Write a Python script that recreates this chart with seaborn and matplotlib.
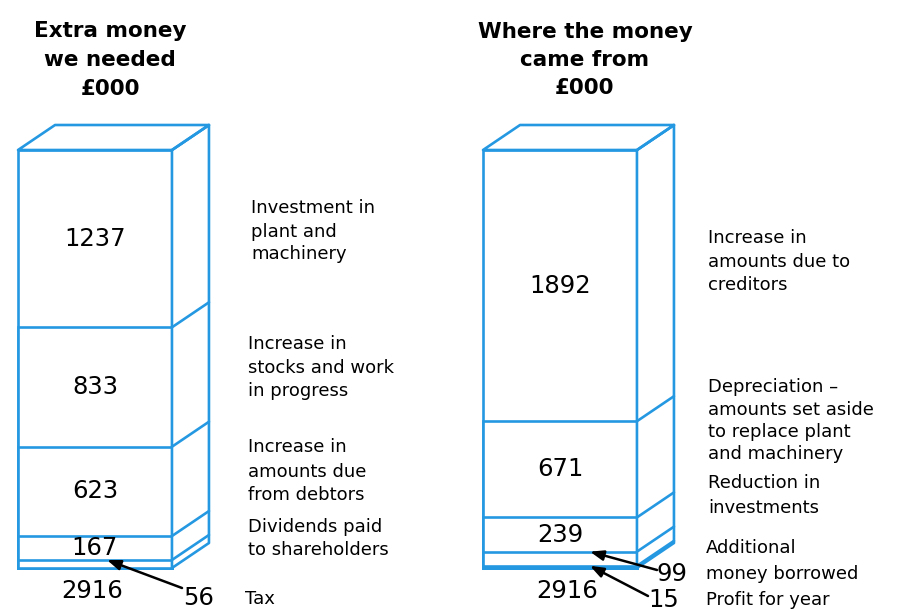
import numpy as np
import pandas as pd
import matplotlib.pyplot as plt
import seaborn as sns
from matplotlib.patches import Polygon

W, H, DPI = 901, 611, 100
BLUE = '#2598e2'

columns = ['Extra money we needed', 'Where the money came from']

# segments from the bottom of each column to the top, in £000
needed_values = [56, 167, 623, 833, 1237]
source_values = [15, 99, 239, 671, 1892]
totals = [2916, 2916]

needed_labels = [
    'Tax',
    'Dividends paid\nto shareholders',
    'Increase in\namounts due\nfrom debtors',
    'Increase in\nstocks and work\nin progress',
    'Investment in\nplant and\nmachinery',
]
source_labels = [
    'Profit for year',
    'Additional\nmoney borrowed',
    'Reduction in\ninvestments',
    'Depreciation \u2013\namounts set aside\nto replace plant\nand machinery',
    'Increase in\namounts due to\ncreditors',
]

needed_cum = np.cumsum(needed_values)
source_cum = np.cumsum(source_values)

sns.set_style('white')
plt.rcParams['font.family'] = ['DejaVu Sans']
plt.rcParams['text.color'] = 'black'

fig = plt.figure(figsize=(W / DPI, H / DPI), dpi=DPI)
fig.patch.set_facecolor('white')
ax = fig.add_axes([0, 0, 1, 1])

# tallest cumulative bar first, smaller ones drawn over it -> dividers
for i in range(len(needed_values) - 1, -1, -1):
    df = pd.DataFrame({'side': columns, 'cum': [needed_cum[i], source_cum[i]]})
    sns.barplot(data=df, x='side', y='cum', order=columns, color='white',
                edgecolor=BLUE, linewidth=1.9, width=0.331, saturation=1,
                errorbar=None, ax=ax)

# scale: 465 px per category step, 418 px for the 2916 total
x_px = 465.0
y_px = 418.0 / totals[0]
ax.set_xlim(-95 / x_px, (W - 95) / x_px)
ax.set_ylim(-(H - 568) / y_px, 568 / y_px)
ax.set_axis_off()

DX = 37 / x_px
DY = 25 / y_px

# 3d sides and tops built from the bar patches
groups = {}
for p in ax.patches:
    groups.setdefault(round(p.get_x(), 4), []).append(p)

for x0, ps in groups.items():
    w = ps[0].get_width()
    top = max(p.get_height() for p in ps)
    xr = x0 + w
    side = Polygon([(xr, 0), (xr + DX, DY), (xr + DX, top + DY), (xr, top)],
                   closed=True, facecolor='white', edgecolor=BLUE, lw=1.9,
                   joinstyle='round')
    ax.add_patch(side)
    lid = Polygon([(x0, top), (x0 + DX, top + DY), (xr + DX, top + DY), (xr, top)],
                  closed=True, facecolor='white', edgecolor=BLUE, lw=1.9,
                  joinstyle='round')
    ax.add_patch(lid)
    for p in ps:
        h = p.get_height()
        ax.plot([xr, xr + DX], [h, h + DY], color=BLUE, lw=1.9,
                solid_capstyle='round')


def put(x, y, s, **kw):
    fig.text(x / W, 1 - y / H, s, va='baseline', **kw)


# titles
for s, y in zip(['Extra money', 'we needed', '\u00a3000'], [37, 66, 95]):
    put(110, y, s, ha='center', fontsize=15.5, fontweight='bold')
for s, y in zip(['Where the money', 'came from', '\u00a3000'], [38, 66, 94]):
    put(585, y, s, ha='center', fontsize=15.5, fontweight='bold')

# numbers inside the segments
num_kw = dict(ha='center', va='center', fontsize=17.5)
for xi, vals, cum, skip in [(0, needed_values, needed_cum, 1),
                            (1, source_values, source_cum, 2)]:
    for v, c in list(zip(vals, cum))[skip:]:
        ax.text(xi, c - v / 2, str(v), **num_kw)

put(92, 598, str(totals[0]), ha='center', fontsize=17.5)
put(567, 598, str(totals[1]), ha='center', fontsize=17.5)

# small segments called out with arrows
arrow = dict(arrowstyle='-|>,head_length=0.8,head_width=0.3', color='black',
             lw=1.8, shrinkA=0, shrinkB=0)
callouts = [
    (0 + 12 / x_px, needed_cum[0], 182, 588, str(needed_values[0]), 183, 605),
    (1 + 30 / x_px, source_cum[1], 657, 570, str(source_values[1]), 656, 581),
    (1 + 30 / x_px, source_cum[0], 648, 596, str(source_values[0]), 648, 607),
]
for xd, yd, tx, ty, s, lx, ly in callouts:
    ax.annotate('', xy=(xd, yd), xycoords='data',
                xytext=(tx / W, 1 - ty / H), textcoords='figure fraction',
                arrowprops=arrow)
    put(lx, ly, s, ha='left', fontsize=17.5)

# side descriptions
lab_kw = dict(ha='left', fontsize=13)
left_pos = [(245, [604]), (248, [532, 555]), (248, [452, 477, 500]),
            (248, [349, 373, 396]), (251, [213, 237, 259])]
right_pos = [(706, [605]), (706, [553, 579]), (708, [488, 513]),
             (708, [392, 415, 437, 459]), (708, [243, 267, 290])]
for labels, positions in [(needed_labels, left_pos), (source_labels, right_pos)]:
    for text, (lx, ys) in zip(labels, positions):
        for line, ly in zip(text.split('\n'), ys):
            put(lx, ly, line, **lab_kw)

fig.savefig('out.png', dpi=DPI, facecolor='white')
